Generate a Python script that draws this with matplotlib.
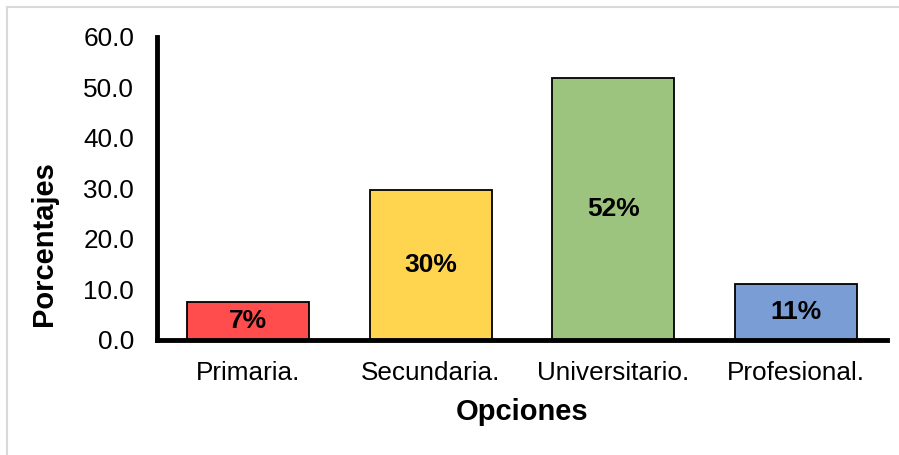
import numpy as np
import matplotlib
matplotlib.use('Agg')
import matplotlib.pyplot as plt
from matplotlib.lines import Line2D

plt.rcParams['font.family'] = ['Liberation Sans', 'DejaVu Sans']

categorias = ['Primaria.', 'Secundaria.', 'Universitario.', 'Profesional.']
valores = [7.4, 29.6, 51.9, 11.1]
etiquetas = ['7%', '30%', '52%', '11%']
colores = ['#FF4D4D', '#FFD44F', '#9DC47F', '#7B9DD5']
yticks = [0, 10, 20, 30, 40, 50, 60]

fig = plt.figure(figsize=(8.99, 4.55), dpi=100)
ax = fig.add_axes([157/899, 1 - 339.5/455, (887-157)/899, (339.5-37)/455])

x = np.arange(len(categorias))
barras = ax.bar(x, valores, width=0.67, color=colores, edgecolor='black', linewidth=1.3, zorder=2)

for b, et in zip(barras, etiquetas):
    ax.text(b.get_x() + b.get_width()/2, b.get_height()/2, et,
            ha='center', va='center', fontsize=19, fontweight='bold')

ax.set_xlim(-0.5, 3.5)
ax.set_ylim(0, 60)
ax.set_yticks(yticks)
ax.set_yticklabels(['%.1f' % v for v in yticks], fontsize=18.8)
ax.set_xticks(x)
ax.set_xticklabels(categorias, fontsize=18.8)
ax.tick_params(length=0)
ax.tick_params(axis='y', pad=16.5)
ax.tick_params(axis='x', pad=15.5)

for s in ['top', 'right']:
    ax.spines[s].set_visible(False)
for s in ['left', 'bottom']:
    ax.spines[s].set_linewidth(3.5)
    ax.spines[s].set_zorder(3)

ax.set_xlabel('Opciones', fontsize=21, fontweight='bold', labelpad=9)
ax.set_ylabel('Porcentajes', fontsize=21, fontweight='bold', labelpad=18, y=0.316)

# borde gris claro de la imagen
fig.add_artist(Line2D([7/899, 1], [1 - 7/455, 1 - 7/455], color='#d9d9d9', linewidth=1.5))
fig.add_artist(Line2D([7/899, 7/899], [0, 1 - 7/455], color='#d9d9d9', linewidth=1.5))

fig.savefig('out.png', dpi=100)
